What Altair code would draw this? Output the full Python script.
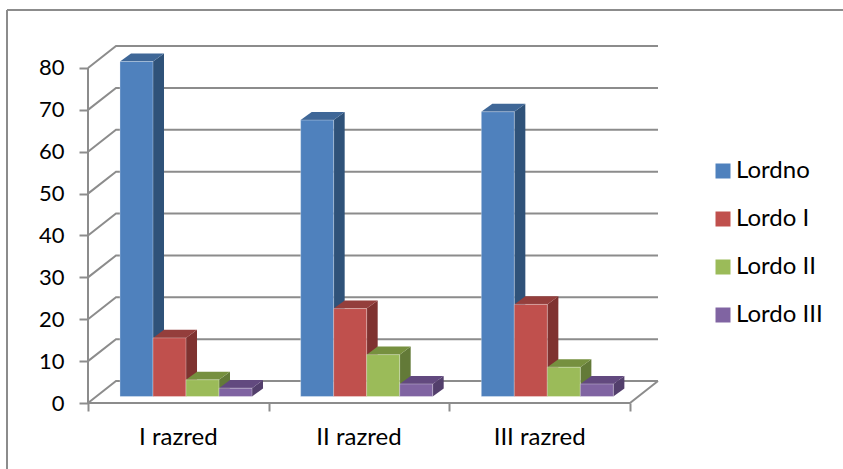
import altair as alt
import pandas as pd

# Survey counts per school year and posture class
classes = ["I razred", "II razred", "III razred"]
series = ["Lordno", "Lordo I", "Lordo II", "Lordo III"]
lordno = [80, 66, 68]
lordo_1 = [14, 21, 22]
lordo_2 = [4, 10, 7]
lordo_3 = [2, 3, 3]
values = [lordno, lordo_1, lordo_2, lordo_3]
y_ticks = [0, 10, 20, 30, 40, 50, 60, 70, 80]

front_colors = ["#4f81bd", "#c0504d", "#9bbb59", "#8064a2"]
top_colors = ["#3f6797", "#943e3c", "#76903f", "#62497f"]
side_colors = ["#2f5279", "#7f3230", "#637a38", "#533f6c"]

GRID = "#8c8c8c"
FONT = "Lato"

# Chart geometry, in data units: one category is 1.0 wide on x
WALL_DX, WALL_DY = 0.155, 5.25    # depth of the back wall
BAR_DX, BAR_DY = 0.061, 1.92      # depth of a bar
BAR_W = 0.1827
BAR_X0 = 0.177
BAR_BASE = 1.55                   # bars stand in the middle of the floor
x_scale = alt.Scale(domain=[0, 3 + WALL_DX], nice=False, zero=False)
y_scale = alt.Scale(domain=[0, 85.25], nice=False, zero=False)
x_axis = alt.Axis(
    values=[0, 1, 2, 3], labels=False, domain=False, grid=False,
    tickSize=8, tickColor=GRID, tickWidth=2, title=None,
)
y_axis = alt.Axis(
    values=y_ticks, domain=False, grid=False, tickSize=9,
    tickColor=GRID, tickWidth=2, title=None, labelFont=FONT,
    labelFontSize=22, labelColor="#000000", labelPadding=15,
)
X = lambda f: alt.X(f, type="quantitative", scale=x_scale, axis=x_axis)
Y = lambda f: alt.Y(f, type="quantitative", scale=y_scale, axis=y_axis)

fronts, tops, sides = [], [], []
for c in range(len(classes)):
    for s, name in enumerate(series):
        v = values[s][c]
        a = c + BAR_X0 + s * BAR_W
        b = a + BAR_W
        t = BAR_BASE + v
        key = f"{c}-{s}"
        fronts.append(dict(a=a, b=b, lo=BAR_BASE, hi=t, series=name))
        for x, y1, y2 in [
            (b, t, BAR_BASE),
            (b + BAR_DX, t + BAR_DY, BAR_BASE + BAR_DY),
        ]:
            sides.append(dict(x=x, y1=y1, y2=y2, key=key, color=side_colors[s]))
        for x, y1, y2 in [
            (a, t, t),
            (a + BAR_DX, t + BAR_DY, t),
            (b, t + BAR_DY, t),
            (b + BAR_DX, t + BAR_DY, t + BAR_DY),
        ]:
            tops.append(dict(x=x, y1=y1, y2=y2, key=key, color=top_colors[s]))

# Gridlines run up the side wall, then along the back wall
grid = []
for v in y_ticks:
    grid.append(dict(x=0, y=v, key=f"g{v}", o=0))
    grid.append(dict(x=WALL_DX, y=v + WALL_DY, key=f"g{v}", o=1))
    grid.append(dict(x=3 + WALL_DX, y=v + WALL_DY, key=f"g{v}", o=2))
# Front and right edges of the floor
grid.append(dict(x=0, y=0, key="floor", o=0))
grid.append(dict(x=3, y=0, key="floor", o=1))
grid.append(dict(x=3 + WALL_DX, y=WALL_DY, key="floor", o=2))

grid_layer = (
    alt.Chart(pd.DataFrame(grid))
    .mark_line(color=GRID, strokeWidth=2)
    .encode(x=X("x"), y=Y("y"), detail="key:N", order="o:Q")
)

y_axis_line = (
    alt.Chart(pd.DataFrame({"x": [0], "lo": [0], "hi": [y_ticks[-1]]}))
    .mark_rule(color=GRID, strokeWidth=2)
    .encode(x=X("x"), y=Y("lo"), y2="hi:Q")
)

side_layer = (
    alt.Chart(pd.DataFrame(sides))
    .mark_area(line=False)
    .encode(
        x=X("x"), y=Y("y1"), y2="y2:Q", detail="key:N",
        fill=alt.Fill("color:N", scale=None),
    )
)
top_layer = (
    alt.Chart(pd.DataFrame(tops))
    .mark_area(line=False)
    .encode(
        x=X("x"), y=Y("y1"), y2="y2:Q", detail="key:N",
        fill=alt.Fill("color:N", scale=None),
    )
)
front_layer = (
    alt.Chart(pd.DataFrame(fronts))
    .mark_rect(stroke="#ffffff", strokeOpacity=0.3, strokeWidth=1)
    .encode(
        x=X("a"), x2="b:Q", y=Y("lo"), y2="hi:Q",
        color=alt.Color(
            "series:N",
            scale=alt.Scale(domain=series, range=front_colors),
            legend=alt.Legend(
                orient="none", legendX=623, legendY=113, title=None, padding=0,
                symbolType="square", symbolSize=225, symbolStrokeWidth=0,
                labelFont=FONT, labelFontSize=24, labelColor="#000000",
                labelOffset=1, rowPadding=24,
            ),
        ),
    )
)

class_labels = (
    alt.Chart(pd.DataFrame({"x": [i + 0.5 for i in range(3)], "label": classes}))
    .mark_text(font=FONT, fontSize=24, color="#000000")
    .encode(x=X("x"), y=alt.value(392), text="label:N")
)

# Chart frame: only its top and left edges fall inside the page
frame_top = (
    alt.Chart(pd.DataFrame({"k": [0]}))
    .mark_rule(color=GRID, strokeWidth=2)
    .encode(x=alt.value(-81), x2=alt.value(760), y=alt.value(-36))
)
frame_left = (
    alt.Chart(pd.DataFrame({"k": [0]}))
    .mark_rule(color=GRID, strokeWidth=2)
    .encode(x=alt.value(-81), y=alt.value(-36), y2=alt.value(430))
)

chart = (
    alt.layer(
        frame_top, frame_left, grid_layer, y_axis_line,
        side_layer, top_layer, front_layer, class_labels,
    )
    .properties(
        width=570,
        height=357,
        padding={"left": 88, "top": 46, "right": 185, "bottom": 66},
        autosize=alt.AutoSizeParams(type="none"),
        background="#ffffff",
    )
    .configure_view(stroke=None)
)

chart.save("out.html", embed_options={"renderer": "svg", "actions": False})
